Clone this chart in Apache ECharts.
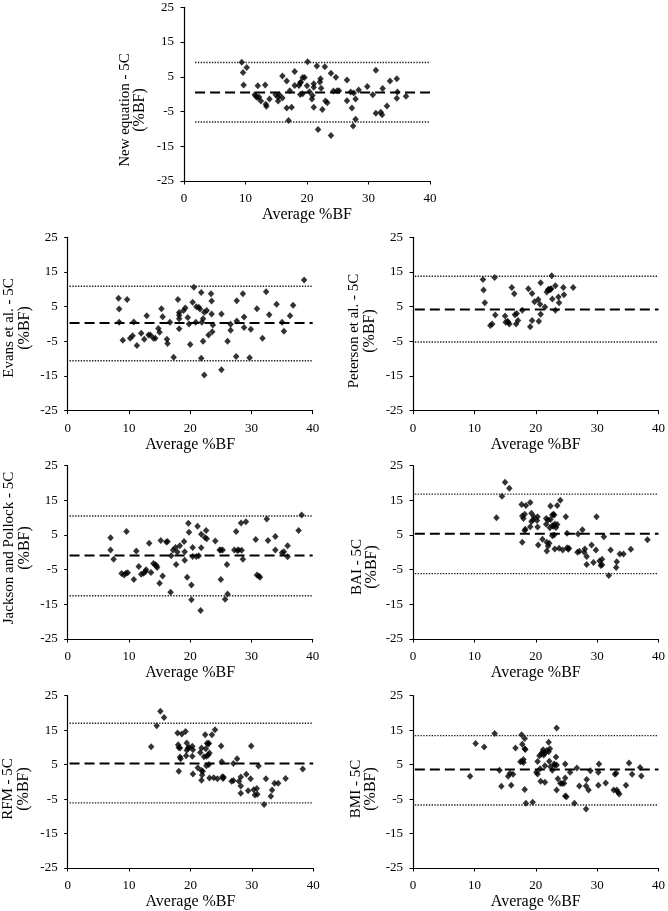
<!DOCTYPE html>
<html>
<head>
<meta charset="utf-8">
<script src="https://cdn.jsdelivr.net/npm/echarts@6/dist/echarts.min.js"></script>
<style>html,body{margin:0;padding:0;background:#fff}#c{width:668px;height:911px}</style>
</head>
<body>
<div id="c"></div>
<script>
// ---- Data (Average %BF, difference %BF) ----
const xTicks = [0, 10, 20, 30, 40];
const yTicks = [-25, -15, -5, 5, 15, 25];

const newEqPoints = [[9.4,9.2],[9.6,6.2],[10.2,7.7],[9.7,2.6],[11.5,-0.2],[11.7,-0.6],[11.9,-1.0],[12.0,2.4],[12.2,-0.8],[12.5,-2.0],[13.2,2.6],[13.3,-2.9],[13.4,-3.5],[13.9,-1.4],[14.9,-0.2],[15.3,-0.8],[15.3,-2.0],[15.5,-0.2],[16.0,5.2],[16.0,-1.1],[16.7,3.8],[16.7,-4.0],[17.2,1.0],[17.5,-3.8],[17.0,-7.6],[18.0,6.5],[18.0,2.5],[18.7,2.5],[18.9,3.2],[19.0,3.5],[18.9,-0.1],[19.3,4.8],[19.6,4.8],[19.3,0.1],[20.1,9.3],[20.0,2.4],[20.4,0.7],[20.8,-1.4],[20.9,-0.4],[21.1,3.0],[21.1,2.0],[21.1,-3.8],[21.6,8.1],[22.1,3.5],[22.2,4.4],[22.3,1.7],[21.8,-10.2],[22.5,-4.4],[22.9,7.9],[23.0,-2.0],[23.3,-2.5],[23.9,6.0],[23.9,-11.9],[24.3,0.9],[24.7,4.9],[24.9,1.0],[25.2,1.0],[26.5,4.1],[26.5,-1.9],[27.1,0.6],[27.3,-4.0],[27.5,-9.2],[27.6,0.3],[27.9,-1.4],[27.9,-7.2],[28.4,1.2],[29.8,2.2],[30.7,-0.2],[31.2,6.9],[31.2,-5.5],[32.0,-5.2],[32.2,-5.9],[32.3,1.6],[33.0,-3.4],[33.5,3.8],[34.6,4.4],[34.6,-1.2],[34.7,0.6],[36.1,-0.6]];
const newEqStats = {mean: 0.5, upper: 9.1, lower: -8.0, start: 1.8, end: 40};

const evansPoints = [[8.3,7.4],[8.4,4.3],[8.4,0.5],[9.0,-4.7],[9.7,7.1],[10.2,-4.1],[10.6,-3.4],[10.8,0.6],[11.3,-6.2],[12.0,-2.7],[12.5,-4.4],[12.9,2.4],[13.2,-3.2],[13.5,-3.2],[14.0,-4.1],[14.3,-4.1],[14.8,-1.3],[15.0,-2.4],[15.3,4.4],[15.5,2.1],[16.2,-4.4],[16.3,-5.6],[16.7,0.5],[17.3,-9.6],[18.0,7.1],[18.2,3.3],[18.2,2.5],[18.2,1.5],[18.2,-1.4],[18.9,3.9],[19.2,4.6],[19.6,1.9],[19.8,0.0],[20.0,-5.9],[20.4,6.3],[20.6,10.6],[20.9,0.5],[21.0,5.0],[21.4,4.8],[21.6,4.3],[21.8,9.1],[21.8,-9.9],[21.9,0.5],[22.1,1.5],[22.1,-5.0],[22.3,-14.7],[22.3,3.4],[22.7,3.9],[23.0,-3.2],[23.4,8.7],[23.5,6.6],[23.5,2.9],[23.6,-2.2],[23.7,-0.3],[25.1,2.9],[25.1,-13.2],[26.1,-5.0],[26.6,-0.1],[26.6,-1.8],[27.5,-9.4],[27.6,6.7],[27.6,0.9],[28.6,8.7],[28.8,2.0],[28.8,-1.0],[29.7,-9.7],[29.9,-1.5],[30.9,4.4],[31.8,-4.1],[32.4,9.3],[32.9,2.7],[34.1,5.7],[35.0,0.5],[35.3,-2.1],[36.3,2.4],[36.8,5.4],[38.6,12.7]];
const evansStats = {mean: 0.3, upper: 10.9, lower: -10.6, start: 0.3, end: 40};

const petersonPoints = [[11.4,12.8],[11.5,9.8],[11.7,6.1],[13.3,13.4],[13.4,2.6],[12.6,-0.4],[12.9,0.0],[15.0,2.3],[15.1,0.5],[15.4,0.8],[15.5,0.5],[15.7,0.0],[16.1,10.5],[16.5,8.7],[16.6,2.7],[16.9,3.0],[16.8,0.0],[17.1,1.0],[17.8,4.0],[18.8,10.2],[19.1,-0.8],[19.4,8.8],[19.4,1.0],[19.8,6.4],[20.4,7.1],[20.5,0.8],[20.8,2.8],[20.7,5.7],[20.8,11.9],[21.5,4.9],[21.8,9.2],[22.0,9.8],[22.1,10.0],[22.3,9.9],[22.4,10.0],[22.5,10.2],[22.7,7.2],[22.6,13.9],[23.2,11.0],[23.2,4.0],[23.7,7.8],[23.8,6.1],[24.5,10.5],[24.6,8.4],[26.1,10.5]];
const petersonStats = {mean: 4.2, upper: 13.75, lower: -5.2, start: 0.3, end: 40};

const jacksonPoints = [[7.0,4.2],[7.0,0.7],[7.5,-2.0],[8.8,-6.1],[9.2,-6.5],[9.5,-6.0],[9.8,-5.9],[9.6,6.0],[10.8,-7.8],[11.2,0.4],[11.6,-4.1],[12.0,-6.3],[12.4,-6.0],[12.7,-5.5],[12.8,-5.0],[13.3,2.6],[13.6,-5.8],[14.0,-3.2],[14.3,-3.6],[14.5,-3.9],[14.6,-4.4],[15.0,-8.9],[15.2,3.4],[15.5,-6.8],[16.1,3.0],[16.3,3.1],[16.8,-11.5],[16.9,-1.0],[17.2,0.7],[17.6,1.4],[17.9,0.1],[17.7,-3.5],[18.3,1.9],[19.0,3.1],[19.1,0.2],[19.1,-2.3],[19.7,8.4],[19.8,5.8],[19.5,-7.2],[20.2,-9.4],[20.2,-13.7],[20.4,1.4],[20.4,-1.2],[21.0,-1.2],[21.2,7.5],[21.4,-1.0],[21.7,-16.8],[21.8,5.2],[21.8,1.3],[22.4,4.3],[22.7,3.9],[22.6,6.3],[24.1,3.3],[24.8,0.7],[25.0,0.7],[25.3,0.7],[25.0,-7.8],[25.7,-13.5],[26.0,-3.5],[26.1,-12.0],[27.2,0.7],[27.5,6.0],[27.7,0.5],[27.9,0.7],[28.3,8.5],[28.4,0.6],[28.6,-2.0],[29.1,8.8],[30.7,3.7],[30.9,-6.5],[31.2,-6.8],[31.4,-7.2],[32.5,9.6],[32.7,3.4],[33.9,0.7],[33.9,4.6],[35.0,-0.1],[35.3,0.2],[35.9,1.9],[35.9,-1.3],[37.7,6.3],[38.2,10.8]];
const jacksonStats = {mean: -0.9, upper: 10.5, lower: -12.5, start: 0.3, end: 40};

const baiPoints = [[13.6,10.0],[14.5,16.2],[15.0,20.2],[15.7,18.5],[17.7,13.8],[17.8,10.5],[17.8,2.9],[18.0,9.8],[18.2,11.0],[18.2,6.3],[18.3,6.7],[18.4,13.5],[19.1,14.4],[19.1,7.4],[19.3,11.3],[19.3,8.9],[19.6,9.4],[19.7,10.3],[20.2,9.2],[20.3,10.3],[20.3,7.3],[20.4,2.1],[21.1,3.8],[21.7,8.1],[21.7,9.8],[22.0,9.3],[21.8,2.9],[22.2,2.6],[21.8,0.4],[22.0,1.8],[22.3,7.1],[22.4,13.4],[22.4,9.5],[22.7,7.7],[22.7,10.8],[22.9,11.0],[23.0,10.8],[22.7,4.8],[23.0,5.0],[22.9,7.5],[23.1,8.2],[23.1,1.0],[23.5,13.5],[23.5,8.0],[23.3,7.2],[23.8,1.2],[24.0,15.0],[24.4,0.7],[24.9,10.3],[25.1,5.5],[25.1,1.3],[25.3,0.9],[25.4,1.2],[26.8,0.0],[27.1,0.3],[26.9,5.3],[27.6,6.5],[27.9,0.0],[28.0,1.0],[28.3,-1.2],[28.3,-3.5],[29.1,2.1],[29.4,-2.9],[29.8,0.7],[29.9,10.3],[30.4,-2.5],[30.6,-3.8],[30.8,-3.6],[30.8,-2.0],[31.1,4.5],[31.9,-6.7],[32.2,0.7],[33.1,-4.4],[33.2,-2.7],[33.7,-0.5],[34.3,-0.5],[35.5,0.9],[38.2,3.6]];
const baiStats = {mean: 5.4, upper: 16.8, lower: -6.15, start: 0.3, end: 40};

const rfmPoints = [[13.6,10.2],[14.5,16.3],[15.1,20.5],[15.7,18.7],[17.9,14.2],[18.0,10.8],[18.1,10.0],[18.1,3.1],[18.3,9.8],[18.4,6.7],[18.3,7.2],[18.6,13.9],[19.2,14.6],[19.3,7.6],[19.4,11.3],[19.4,9.2],[19.6,9.8],[19.8,10.0],[20.3,10.3],[20.4,9.3],[20.3,7.4],[20.4,2.3],[21.2,4.1],[21.6,8.5],[21.8,9.8],[21.8,3.3],[22.0,3.1],[21.8,0.5],[21.9,2.0],[22.2,7.3],[22.4,13.7],[22.5,9.6],[22.6,7.4],[22.7,11.2],[22.9,11.0],[23.0,11.2],[22.6,4.7],[23.0,5.0],[22.9,7.8],[23.1,8.4],[23.1,1.1],[23.5,13.7],[23.8,1.2],[24.0,15.1],[24.4,0.9],[25.0,10.4],[25.1,5.8],[25.2,1.5],[25.3,1.0],[25.4,1.3],[26.7,0.2],[27.0,0.4],[27.0,5.3],[27.6,6.7],[27.9,0.2],[28.2,1.4],[28.2,-1.2],[28.2,-3.3],[29.1,2.2],[29.4,-2.6],[29.8,0.9],[29.9,10.4],[30.3,-2.3],[30.5,-3.8],[30.9,-3.6],[30.8,-1.9],[31.1,4.6],[32.0,-6.6],[32.3,0.9],[33.1,-4.2],[33.3,-2.4],[33.7,-0.4],[34.3,-0.4],[35.5,1.0],[38.3,3.7]];
const rfmStats = {mean: 5.3, upper: 17.0, lower: -6.1, start: 0.3, end: 40};

const bmiPoints = [[9.3,1.6],[10.2,11.1],[11.6,10.1],[13.3,14.0],[14.1,3.4],[14.4,-1.3],[15.5,1.6],[15.8,2.5],[16.3,2.2],[16.0,-1.0],[16.7,9.8],[17.5,5.8],[17.8,5.9],[18.0,5.6],[17.7,13.7],[17.8,10.9],[18.0,6.5],[18.2,9.6],[18.3,9.4],[18.2,12.6],[18.2,-2.2],[18.4,-6.2],[19.5,-5.9],[20.1,2.8],[20.3,2.3],[20.3,5.9],[20.7,3.8],[20.6,7.6],[20.9,8.1],[21.1,8.6],[20.8,0.2],[21.2,9.3],[21.3,7.8],[21.5,8.4],[21.5,4.7],[21.5,-0.1],[21.8,9.1],[22.1,8.7],[22.1,11.5],[22.2,6.0],[22.3,9.6],[22.4,4.4],[22.7,3.4],[23.1,4.8],[23.3,7.2],[23.4,15.6],[23.4,4.9],[23.0,5.2],[23.4,-2.4],[23.6,0.9],[24.0,-0.4],[24.3,-0.5],[24.6,-0.4],[24.8,1.1],[24.8,5.2],[24.8,-4.1],[25.0,-4.3],[25.6,2.8],[26.7,4.0],[27.1,-1.2],[26.3,-6.2],[28.2,-1.2],[28.3,0.7],[28.2,-7.9],[28.6,-2.4],[28.9,3.2],[30.2,2.8],[30.3,5.2],[30.2,-1.0],[31.4,-0.3],[32.7,-2.4],[32.9,2.2],[33.1,2.5],[33.2,-2.4],[33.4,-3.0],[33.6,-3.5],[34.7,-1.0],[35.2,5.5],[35.7,2.2],[37.0,4.2],[37.2,1.7]];
const bmiStats = {mean: 3.6, upper: 13.4, lower: -6.7, start: 0.3, end: 40};

const yTitles = ['New equation - 5C', 'Evans et al. - 5C', 'Peterson et al. - 5C', 'Jackson and Pollock - 5C', 'BAI - 5C', 'RFM - 5C', 'BMI - 5C'];
const yUnit = '(%BF)';
const xTitle = 'Average %BF';

// ---- Layout ----
const panels = [
  {pts: newEqPoints,    st: newEqStats,    g: {left: 184,   top: 7.3,   width: 246, height: 173.7}, t: [132.5, 110]},
  {pts: evansPoints,    st: evansStats,    g: {left: 67.7,  top: 237.3, width: 245, height: 173.4}, t: [17, 328]},
  {pts: petersonPoints, st: petersonStats, g: {left: 413,   top: 237.3, width: 246, height: 173.4}, t: [362, 331]},
  {pts: jacksonPoints,  st: jacksonStats,  g: {left: 67.7,  top: 465.7, width: 245, height: 173.3}, t: [17, 548]},
  {pts: baiPoints,      st: baiStats,      g: {left: 413,   top: 465.7, width: 246, height: 173.3}, t: [364.5, 567]},
  {pts: rfmPoints,      st: rfmStats,      g: {left: 67.7,  top: 695.7, width: 245.5, height: 173.6}, t: [16, 789]},
  {pts: bmiPoints,      st: bmiStats,      g: {left: 413,   top: 695.7, width: 246, height: 173.6}, t: [363.5, 789]}
];

const FONT = 'Liberation Serif';
const grids = [], xAxes = [], yAxes = [], series = [], graphics = [];

panels.forEach((p, i) => {
  grids.push(Object.assign({containLabel: false}, p.g));
  xAxes.push({
    gridIndex: i, type: 'value',
    min: xTicks[0], max: xTicks[xTicks.length - 1], interval: xTicks[1] - xTicks[0],
    name: xTitle, nameLocation: 'middle', nameGap: 26,
    nameTextStyle: {fontFamily: FONT, fontSize: 16, color: '#000'},
    axisLine: {onZero: false, lineStyle: {color: '#000', width: 1.2}},
    axisTick: {show: true, length: 3.5, lineStyle: {color: '#000'}},
    axisLabel: {fontFamily: FONT, fontSize: 13, color: '#000', margin: 11},
    splitLine: {show: false}
  });
  yAxes.push({
    gridIndex: i, type: 'value',
    min: yTicks[0], max: yTicks[yTicks.length - 1], interval: yTicks[1] - yTicks[0],
    axisLine: {onZero: false, lineStyle: {color: '#000', width: 1.2}},
    axisTick: {show: true, length: 3.5, lineStyle: {color: '#000'}},
    axisLabel: {fontFamily: FONT, fontSize: 13, color: '#000', margin: 10},
    splitLine: {show: false}
  });
  const st = p.st;
  const lineBase = {type: 'line', xAxisIndex: i, yAxisIndex: i, symbol: 'none', silent: true, animation: false};
  series.push(Object.assign({}, lineBase, {
    data: [[st.start, st.upper], [st.end, st.upper]],
    lineStyle: {color: '#222', width: 1.4, type: [1.4, 1.4]}
  }));
  series.push(Object.assign({}, lineBase, {
    data: [[st.start, st.lower], [st.end, st.lower]],
    lineStyle: {color: '#222', width: 1.4, type: [1.4, 1.4]}
  }));
  series.push(Object.assign({}, lineBase, {
    data: [[st.start, st.mean], [st.end, st.mean]],
    lineStyle: {color: '#000', width: 2, type: [10, 5]}
  }));
  series.push({
    type: 'scatter', xAxisIndex: i, yAxisIndex: i, animation: false,
    symbol: 'diamond', symbolSize: [6.5, 7],
    itemStyle: {color: '#000'},
    data: p.pts
  });
  graphics.push({
    type: 'text', x: p.t[0], y: p.t[1], rotation: Math.PI / 2,
    style: {
      text: '{a|' + yTitles[i] + '}\n{b|' + yUnit + '}',
      fill: '#000', textAlign: 'center', textVerticalAlign: 'middle',
      rich: {
        a: {fontFamily: FONT, fontSize: 15, lineHeight: 15, fill: '#000'},
        b: {fontFamily: FONT, fontSize: 16, lineHeight: 15, fill: '#000'}
      }
    }
  });
});

const chart = echarts.init(document.getElementById('c'), null, {renderer: 'canvas'});
chart.setOption({
  animation: false,
  backgroundColor: '#fff',
  grid: grids, xAxis: xAxes, yAxis: yAxes, series: series,
  graphic: graphics
});
</script>
</body>
</html>
